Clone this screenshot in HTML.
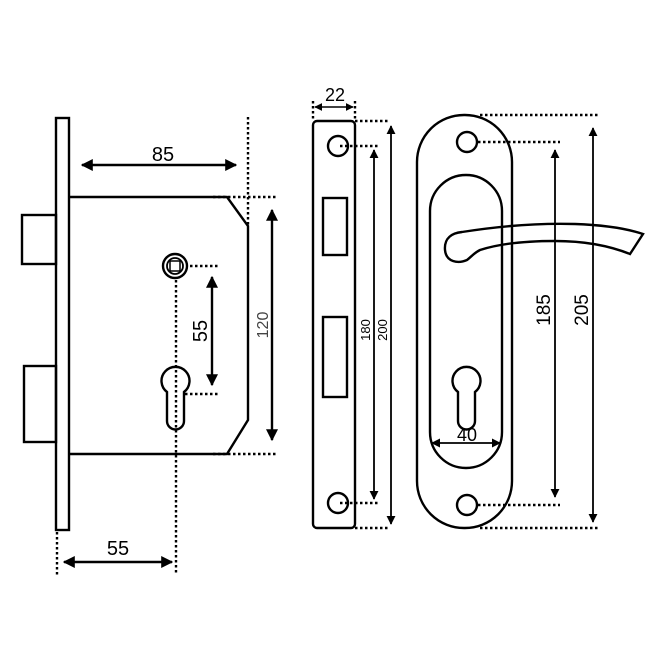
<!DOCTYPE html>
<html><head><style>html,body{margin:0;padding:0;background:#fff}svg{display:block}</style></head>
<body>
<svg width="650" height="650" viewBox="0 0 650 650" xmlns="http://www.w3.org/2000/svg">
<defs>
<marker id="a" viewBox="0 0 10 10" refX="9" refY="5" markerWidth="5" markerHeight="5" orient="auto-start-reverse"><path d="M0,0 L10,5 L0,10 z" fill="#000"/></marker>
</defs>
<g fill="none" stroke="#000" stroke-width="2.4">
<rect x="56" y="118" width="13" height="412"/>
<rect x="22" y="215" width="34" height="49"/>
<rect x="24" y="366" width="32" height="76"/>
<path d="M69,197 L227,197 L248,226 L248,420 L227,454 L69,454"/>
<circle cx="175" cy="266" r="12"/>
<circle cx="175" cy="266" r="8" stroke-width="1.8"/>
<rect x="170" y="261" width="10" height="10" stroke-width="1.5"/>
<path d="M167,392 A14,14 0 1 1 184,392 L184,421 A8.5,8.5 0 0 1 167,421 Z"/>
<rect x="313" y="121" width="42" height="407" rx="4"/>
<circle cx="338" cy="146" r="10"/>
<circle cx="338" cy="503" r="10"/>
<rect x="323" y="198" width="24" height="57"/>
<rect x="323" y="317" width="24" height="80"/>
<rect x="417" y="115" width="95" height="413" rx="47"/>
<rect x="430" y="175" width="72" height="293" rx="36"/>
<circle cx="467" cy="142" r="10"/>
<circle cx="467" cy="505" r="10"/>
<path d="M458,392 A14,14 0 1 1 475,392 L475,421 A8.5,8.5 0 0 1 458,421 Z"/>
<path d="M467,260 C458,264 446,262 445,250 C444,238 452,233 462,232 C500,226 540,223 575,224 C605,225 628,229 643,234 L630,254 C610,246 585,241 555,241 C520,241 495,245 480,250 C474,253 471,257 467,260 Z"/>
</g>
<g stroke="#000" stroke-width="2.4" stroke-dasharray="2.5,2.5" fill="none">
<path d="M248,117 V226 M213,197 H276 M213,454 H276 M190,266 H218 M185,394 H220 M176,280 V575 M57,532 V575"/>
<path d="M313,101 V121 M355,101 V121 M355,121 H390 M355,528 H390 M340,146 H378 M340,503 H378"/>
<path d="M480,115 H600 M480,528 H600 M478,142 H560 M478,505 H560"/>
</g>
<g stroke="#000" stroke-width="2.4" marker-start="url(#a)" marker-end="url(#a)">
<line x1="82" y1="165" x2="236" y2="165"/>
<line x1="212" y1="277" x2="212" y2="385"/>
<line x1="272" y1="210" x2="272" y2="440"/>
<line x1="64" y1="562" x2="172" y2="562"/>
<line x1="315" y1="107" x2="353" y2="107" stroke-width="1.6"/>
<line x1="374" y1="150" x2="374" y2="499" stroke-width="1.8"/>
<line x1="391" y1="126" x2="391" y2="524" stroke-width="1.8"/>
<line x1="432" y1="443" x2="500" y2="443" stroke-width="1.8"/>
<line x1="555" y1="150" x2="555" y2="497" stroke-width="1.8"/>
<line x1="593" y1="128" x2="593" y2="522" stroke-width="1.8"/>
</g>
<g font-family="Liberation Sans, sans-serif" fill="#000" text-anchor="middle">
<text x="163" y="161" font-size="20">85</text>
<text x="118" y="555" font-size="20">55</text>
<text x="335" y="101" font-size="18">22</text>
<text x="467" y="441" font-size="18">40</text>
<text transform="translate(207,331) rotate(-90)" font-size="20">55</text>
<text transform="translate(268,325) rotate(-90)" font-size="16" fill="#444">120</text>
<text transform="translate(370,330) rotate(-90)" font-size="13">180</text>
<text transform="translate(387,330) rotate(-90)" font-size="13">200</text>
<text transform="translate(550,310) rotate(-90)" font-size="19">185</text>
<text transform="translate(588,310) rotate(-90)" font-size="19">205</text>
</g>
</svg>
</body></html>
